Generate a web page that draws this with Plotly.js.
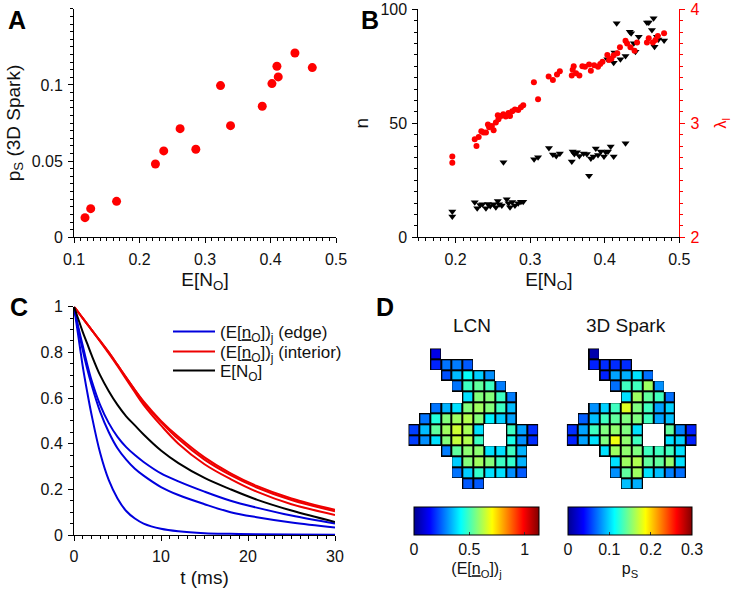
<!DOCTYPE html>
<html>
<head>
<meta charset="utf-8">
<script src="https://cdn.plot.ly/plotly-3.0.1.min.js"></script>
<style>
  html, body { margin: 0; padding: 0; background: #fff; }
  #fig { width: 733px; height: 594px; }
</style>
</head>
<body>
<div id="fig"></div>
<script>
// Panel A: p_S (3D Spark) vs E[N_O]
const aX = [0.1168, 0.1255, 0.165, 0.2243, 0.237, 0.262, 0.286, 0.3237, 0.339, 0.3874, 0.4022, 0.4098, 0.4118, 0.4373, 0.4638];
const aY = [0.0129, 0.0188, 0.0236, 0.0481, 0.0567, 0.0713, 0.0578, 0.0996, 0.0733, 0.086, 0.1009, 0.1123, 0.1053, 0.121, 0.1114];

// Panel B: lambda_l (right axis, red) and n (left axis, black)
const bLamX = [0.1956, 0.1956,
  0.2257, 0.228, 0.231, 0.2345, 0.2376, 0.2407, 0.2434, 0.245, 0.2487, 0.251, 0.254, 0.2566, 0.2575, 0.261, 0.264, 0.2673, 0.271, 0.273, 0.276, 0.2796, 0.284, 0.2876, 0.2907,
  0.305, 0.3106, 0.3248, 0.3305, 0.336, 0.3398,
  0.3558, 0.357, 0.3584, 0.3615, 0.366, 0.370, 0.3735, 0.379, 0.3814, 0.3858, 0.391, 0.394, 0.397,
  0.4035, 0.4058, 0.409, 0.412, 0.4168, 0.4204, 0.4279, 0.43, 0.4345, 0.44, 0.4434, 0.4566, 0.459, 0.4646, 0.468, 0.4712, 0.4796];
const bLamY = [2.708, 2.655,
  2.86, 2.80, 2.88, 2.93, 2.92, 2.92, 2.99, 2.965, 2.977, 2.94, 3.006, 3.07, 3.035, 3.064, 3.08, 3.06, 3.09, 3.064, 3.105, 3.12, 3.117, 3.14, 3.158,
  3.36, 3.21, 3.41, 3.38, 3.427, 3.456,
  3.42, 3.47, 3.50, 3.44, 3.42, 3.50, 3.497, 3.515, 3.46, 3.51, 3.497, 3.52, 3.54,
  3.60, 3.556, 3.567, 3.596, 3.614, 3.667, 3.725, 3.70, 3.667, 3.637, 3.708, 3.708, 3.746, 3.708, 3.73, 3.766, 3.79];
const bNX = [0.1956, 0.1956, 0.2257, 0.229, 0.233, 0.236, 0.2407, 0.2434, 0.2465, 0.251, 0.254, 0.2566, 0.2584, 0.262, 0.2642, 0.2686, 0.271, 0.273, 0.276, 0.2796, 0.284, 0.2876, 0.2907,
  0.3053, 0.3106, 0.3252, 0.3305, 0.335, 0.3398, 0.3558, 0.357, 0.3593, 0.3628, 0.366, 0.3717, 0.376, 0.379, 0.3814, 0.385, 0.388, 0.391, 0.3947, 0.399, 0.4013, 0.4044, 0.408, 0.412, 0.4279,
  0.4035, 0.412, 0.413, 0.416, 0.421, 0.4279, 0.4336, 0.4354, 0.439, 0.4412, 0.4456, 0.4566, 0.459, 0.4633, 0.4655, 0.4668, 0.47, 0.472, 0.4796];
const bNY = [11.3, 9.1, 15.4, 12.7, 14.2, 14.5, 12.7, 14.6, 13.7, 14.5, 13.2, 15.9, 14.5, 13.9, 32.9, 16.7, 14.9, 13.2, 15.5, 13.9, 14.9, 15.6, 15.6,
  34.2, 35.1, 39.2, 36.3, 35.7, 36.8, 33.2, 37.6, 36.5, 37.3, 35.7, 36.8, 36.5, 27.0, 34.6, 35.4, 39.0, 36.1, 37.6, 35.4, 37.4, 37.6, 39.8, 35.4, 41.2,
  78.1, 76.6, 81.0, 93.9, 78.1, 79.5, 90.2, 89.5, 85.1, 81.4, 88.0, 94.2, 94.2, 90.9, 96.1, 83.6, 88.0, 86.8, 86.3];

// Panel C: decay curves
const cT = [0, 0.5, 1, 1.5, 2, 3, 4, 5, 6, 7, 8, 10, 12, 15, 18, 21, 25, 30];
const cEdge = [
  [1, 0.87, 0.74, 0.63, 0.53, 0.36, 0.24, 0.16, 0.105, 0.072, 0.05, 0.027, 0.016, 0.008, 0.005, 0.003, 0.002, 0.001],
  [1, 0.91, 0.83, 0.75, 0.68, 0.57, 0.49, 0.43, 0.385, 0.35, 0.32, 0.27, 0.235, 0.19, 0.15, 0.12, 0.085, 0.05],
  [1, 0.9, 0.81, 0.73, 0.66, 0.54, 0.45, 0.38, 0.33, 0.29, 0.26, 0.21, 0.175, 0.135, 0.1, 0.078, 0.055, 0.033],
];
const cInterior = [
  [1, 0.975, 0.95, 0.925, 0.9, 0.85, 0.8, 0.745, 0.69, 0.635, 0.585, 0.5, 0.43, 0.34, 0.27, 0.215, 0.16, 0.11],
  [1, 0.975, 0.95, 0.925, 0.9, 0.85, 0.8, 0.745, 0.69, 0.635, 0.58, 0.495, 0.42, 0.33, 0.262, 0.208, 0.153, 0.104],
  [1, 0.975, 0.95, 0.925, 0.9, 0.848, 0.795, 0.74, 0.682, 0.625, 0.57, 0.48, 0.4, 0.31, 0.245, 0.19, 0.135, 0.088],
];
const cTotal = [1, 0.945, 0.89, 0.84, 0.79, 0.70, 0.63, 0.57, 0.52, 0.48, 0.44, 0.37, 0.315, 0.25, 0.2, 0.155, 0.107, 0.057];

// Panel D: per-site maps (rows top to bottom, null = no site)
const _ = null;
const dLCN = [
  [_, _, 0.11, _, _, _, _, _, _, _, _, _],
  [_, _, 0.18, 0.27, 0.28, 0.24, _, _, _, _, _, _],
  [_, _, _, 0.23, 0.35, 0.43, 0.37, 0.30, _, _, _, _],
  [_, _, _, _, 0.27, 0.49, 0.53, 0.49, 0.28, _, _, _],
  [_, _, _, _, _, 0.39, 0.57, 0.57, 0.49, 0.28, _, _],
  [_, _, 0.27, 0.34, 0.39, 0.57, 0.60, 0.57, 0.49, 0.35, _, _],
  [_, 0.27, 0.46, 0.57, 0.60, 0.62, 0.57, 0.41, 0.37, 0.32, _, _],
  [0.21, 0.35, 0.53, 0.60, 0.65, 0.61, 0.39, _, _, 0.49, 0.32, 0.19],
  [0.21, 0.30, 0.39, 0.57, 0.64, 0.62, 0.49, _, _, 0.45, 0.30, 0.19],
  [_, _, _, 0.28, 0.53, 0.58, 0.58, 0.39, 0.39, 0.49, 0.34, _],
  [_, _, _, _, 0.37, 0.57, 0.60, 0.57, 0.49, 0.48, 0.34, _],
  [_, _, _, _, 0.27, 0.37, 0.48, 0.39, 0.39, 0.30, 0.24, _],
  [_, _, _, _, _, 0.24, 0.24, _, _, _, _, _],
];
const dSpark = [
  [_, _, 0.01, _, _, _, _, _, _, _, _, _],
  [_, _, 0.047, 0.05, 0.05, 0.05, _, _, _, _, _, _],
  [_, _, _, 0.047, 0.085, 0.089, 0.104, 0.07, _, _, _, _],
  [_, _, _, _, 0.07, 0.131, 0.131, 0.159, 0.08, _, _, _],
  [_, _, _, _, _, 0.104, 0.159, 0.141, 0.131, 0.07, _, _],
  [_, _, 0.08, 0.099, 0.131, 0.178, 0.15, 0.131, 0.085, 0.099, _, _],
  [_, 0.065, 0.094, 0.131, 0.141, 0.15, 0.15, 0.131, 0.085, 0.094, _, _],
  [0.051, 0.085, 0.131, 0.15, 0.155, 0.15, 0.104, _, _, 0.141, 0.075, 0.047],
  [0.047, 0.085, 0.104, 0.15, 0.183, 0.155, 0.131, _, _, 0.104, 0.099, 0.047],
  [_, _, _, 0.104, 0.159, 0.155, 0.15, 0.131, 0.131, 0.131, 0.104, _],
  [_, _, _, _, 0.104, 0.159, 0.164, 0.141, 0.141, 0.155, 0.104, _],
  [_, _, _, _, 0.08, 0.141, 0.159, 0.104, 0.094, 0.075, 0.07, _],
  [_, _, _, _, _, 0.094, 0.089, _, _, _, _, _],
];

const W = 733, H = 594;
const FONT = "Liberation Sans, Arial, sans-serif";
const px = v => v / W;
const py = v => 1 - v / H;
const JET = [[0, "#00008f"], [0.125, "#0000ff"], [0.375, "#00ffff"], [0.625, "#ffff00"], [0.875, "#ff0000"], [1, "#800000"]];

function axis(extra) {
  return Object.assign({
    showline: true, linecolor: "black", linewidth: 1,
    ticks: "outside", ticklen: 5, tickcolor: "black", tickwidth: 1,
    showgrid: false, zeroline: false, fixedrange: true,
    tickfont: { family: FONT, size: 16, color: "#111" },
    ticklabelstandoff: 2,
  }, extra);
}
function minor(d, color) {
  return { tickmode: "linear", tick0: 0, dtick: d, ticks: "outside", ticklen: 3, tickcolor: color || "black", showgrid: false };
}
function legendAt(yPix) {
  return {
    x: px(168), y: py(yPix), xanchor: "left", yanchor: "middle",
    bgcolor: "rgba(0,0,0,0)", borderwidth: 0,
    font: { family: FONT, size: 17, color: "#111" },
    itemclick: false, itemwidth: 42,
  };
}
const mask = m => m.map(r => r.map(v => (v === null ? null : 1)));

const traces = [];

// A
traces.push({
  type: "scatter", mode: "markers", x: aX, y: aY, xaxis: "x", yaxis: "y",
  marker: { color: "#ff0000", size: 9 }, showlegend: false,
});

// B
traces.push({
  type: "scatter", mode: "markers", x: bNX, y: bNY, xaxis: "x2", yaxis: "y2",
  marker: { color: "black", size: 7, symbol: "triangle-down" }, showlegend: false,
});
traces.push({
  type: "scatter", mode: "markers", x: bLamX, y: bLamY, xaxis: "x2", yaxis: "y3",
  marker: { color: "#ff0000", size: 6 }, showlegend: false,
});

// C
const edgeName = "(E[<u>n</u><sub>O</sub>])<sub>j</sub> (edge)";
const intName = "(E[<u>n</u><sub>O</sub>])<sub>j</sub> (interior)";
cEdge.forEach((ys, i) => traces.push({
  type: "scatter", mode: "lines", x: cT, y: ys, xaxis: "x3", yaxis: "y4",
  line: { color: "#0000dd", width: 2, shape: "spline" },
  name: edgeName, legend: "legend", showlegend: i === 0,
}));
cInterior.forEach((ys, i) => traces.push({
  type: "scatter", mode: "lines", x: cT, y: ys, xaxis: "x3", yaxis: "y4",
  line: { color: "#ee0000", width: 2, shape: "spline" },
  name: intName, legend: "legend2", showlegend: i === 0,
}));
traces.push({
  type: "scatter", mode: "lines", x: cT, y: cTotal, xaxis: "x3", yaxis: "y4",
  line: { color: "black", width: 2, shape: "spline" },
  name: "E[N<sub>O</sub>]", legend: "legend3", showlegend: true,
});

// D
function mapTraces(z, xa, ya, zmax, cbX, cbLen, tickvals, cbTitle) {
  return [
    { type: "heatmap", z: mask(z), xaxis: xa, yaxis: ya, zmin: 0, zmax: 1,
      colorscale: [[0, "black"], [1, "black"]], showscale: false, hoverinfo: "skip" },
    { type: "heatmap", z: z, xaxis: xa, yaxis: ya, zmin: 0, zmax: zmax,
      colorscale: JET, xgap: 2, ygap: 2,
      colorbar: {
        orientation: "h", x: cbX, xanchor: "center", y: py(507), yanchor: "top",
        len: cbLen, lenmode: "pixels", thickness: 28, thicknessmode: "pixels",
        xpad: 0, ypad: 0, outlinewidth: 1, outlinecolor: "black",
        tickmode: "array", tickvals: tickvals, ticks: "inside", ticklen: 3, tickcolor: "#333",
        tickfont: { family: FONT, size: 16, color: "#111" },
        title: { text: cbTitle, side: "bottom", font: { family: FONT, size: 16, color: "#111" } },
      } },
  ];
}
traces.push(...mapTraces(dLCN, "x4", "y5", 1.13, px(476.5), 125, [0, 0.5, 1], "(E[<u>n</u><sub>O</sub>])<sub>j</sub>"));
traces.push(...mapTraces(dSpark, "x5", "y6", 0.3, px(630), 123.5, [0, 0.1, 0.2, 0.3], "p<sub>S</sub>"));

const hid = (dom, rng) => ({ domain: dom, range: rng, visible: false, fixedrange: true });

const layout = {
  width: W, height: H,
  margin: { l: 0, r: 0, t: 0, b: 0 },
  paper_bgcolor: "white", plot_bgcolor: "rgba(0,0,0,0)",
  font: { family: FONT, size: 16, color: "#111" },
  showlegend: true,
  legend: legendAt(332),
  legend2: legendAt(352),
  legend3: legendAt(371),

  // A
  xaxis: axis({ domain: [px(74), px(336)], range: [0.1, 0.5], anchor: "y",
    tickmode: "array", tickvals: [0.1, 0.2, 0.3, 0.4, 0.5], minor: minor(0.01),
    title: { text: "E[N<sub>O</sub>]", standoff: 6 } }),
  yaxis: axis({ domain: [py(237.3), py(8.8)], range: [0, 0.15], anchor: "x",
    tickmode: "array", tickvals: [0, 0.05, 0.1], minor: minor(0.005),
    title: { text: "p<sub>S</sub> (3D Spark)", standoff: 6 } }),

  // B
  xaxis2: axis({ domain: [px(418.3), px(679.3)], range: [0.15, 0.5], anchor: "y2",
    tickmode: "array", tickvals: [0.2, 0.3, 0.4, 0.5], minor: minor(0.01),
    title: { text: "E[N<sub>O</sub>]", standoff: 6 } }),
  yaxis2: axis({ domain: [py(237.3), py(9.3)], range: [0, 100], anchor: "x2",
    tickmode: "array", tickvals: [0, 50, 100], minor: minor(5),
    title: { text: "n", standoff: 6 } }),
  yaxis3: axis({ overlaying: "y2", side: "right", range: [2, 4], anchor: "x2",
    linecolor: "#ff0000", tickcolor: "#ff0000",
    tickfont: { family: FONT, size: 16, color: "#ff0000" },
    tickmode: "array", tickvals: [2, 3, 4], minor: minor(0.1, "#ff0000"),
    title: { text: "λ<sub>l</sub>", standoff: 16, font: { family: FONT, size: 16, color: "#ff0000" } } }),

  // C
  xaxis3: axis({ domain: [px(74), px(335)], range: [0, 30], anchor: "y4",
    tickmode: "array", tickvals: [0, 10, 20, 30], minor: minor(1),
    title: { text: "t (ms)", standoff: 6 } }),
  yaxis4: axis({ domain: [py(535), py(306.7)], range: [0, 1], anchor: "x3",
    tickmode: "array", tickvals: [0, 0.2, 0.4, 0.6, 0.8, 1], minor: minor(0.05) }),

  // D
  xaxis4: hid([px(408.3), px(538.3)], [-0.5, 11.5]),
  yaxis5: hid([py(489), py(348.3)], [12.5, -0.5]),
  xaxis5: hid([px(566.7), px(696.7)], [-0.5, 11.5]),
  yaxis6: hid([py(489), py(348.3)], [12.5, -0.5]),

  annotations: [
    { text: "<b>A</b>", x: px(17), y: py(20) },
    { text: "<b>B</b>", x: px(370), y: py(20) },
    { text: "<b>C</b>", x: px(19), y: py(307) },
    { text: "<b>D</b>", x: px(385), y: py(307) },
  ].map(a => Object.assign(a, { xref: "paper", yref: "paper", showarrow: false,
    xanchor: "center", yanchor: "middle", font: { family: FONT, size: 25, color: "black" } }))
  .concat([
    { text: "LCN", x: px(472), y: py(325) },
    { text: "3D Spark", x: px(626), y: py(325) },
  ].map(a => Object.assign(a, { xref: "paper", yref: "paper", showarrow: false,
    xanchor: "center", yanchor: "middle", font: { family: FONT, size: 19, color: "#111" } }))),
};

Plotly.newPlot("fig", traces, layout, { staticPlot: true, displayModeBar: false });
</script>
</body>
</html>
